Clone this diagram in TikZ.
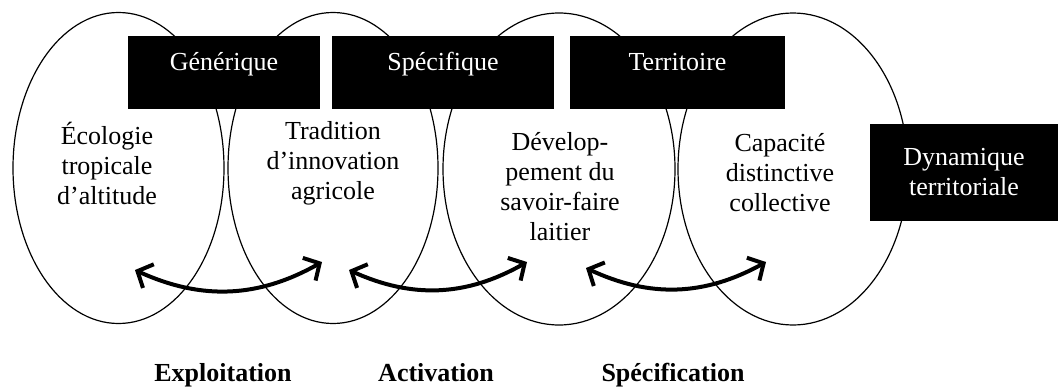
\documentclass[tikz,border=0pt]{standalone}
\usepackage{fontspec}
\setmainfont{Liberation Serif}
\usetikzlibrary{arrows.meta, shapes.geometric}

\tikzset{
    zone/.style={draw, ellipse, line width=0.6pt, inner sep=0pt},
    blackbox/.style={fill=black, text=white, inner sep=0pt, font=\fontsize{13pt}{15pt}\selectfont, text height=9pt, text depth=11.5pt},
    zonetext/.style={align=center, font=\fontsize{13pt}{15pt}\selectfont},
    phase/.style={anchor=base, font=\fontsize{13pt}{15pt}\selectfont\bfseries},
    link/.style={{Straight Barb[length=6pt,width=13pt]}-{Straight Barb[length=6pt,width=13pt]}, line width=2pt}
}

\begin{document}
\begin{tikzpicture}[x=0.5pt, y=-0.5pt]
    \useasboundingbox (0,0) rectangle (1058,390);
    \node [zone, minimum width=105.5pt, minimum height=155.5pt] (z1) at (118.5,168) {};
    \node [zone, minimum width=105pt, minimum height=155.5pt] (z2) at (333,168) {};
    \node [zone, minimum width=116pt, minimum height=156pt] (z3) at (559,169) {};
    \node [zone, minimum width=115pt, minimum height=156pt] (z4) at (793,169) {};

    \node [blackbox, minimum width=96pt, minimum height=36.5pt] (gen) at (224,72.5) {Générique};
    \node [blackbox, minimum width=111pt, minimum height=36.5pt] (spe) at (443,72.5) {Spécifique};
    \node [blackbox, minimum width=107.5pt, minimum height=36.5pt] (ter) at (677.5,72.5) {Territoire};
    \node [fill=black, text=white, inner sep=0pt, align=center, font=\fontsize{13pt}{15pt}\selectfont, minimum width=94pt, minimum height=48.5pt] (dyn) at (964,172) {Dynamique\\territoriale};

    \node [zonetext] (eco) at (107,163) {Écologie\\tropicale\\d’altitude};
    \node [zonetext] (tra) at (333,163) {Tradition\\d’innovation\\agricole};
    \node [zonetext] (dev) at (560,187) {Dévelop-\\pement du\\savoir-faire\\laitier};
    \node [zonetext] (cap) at (780,173) {Capacité\\distinctive\\collective};

    \coordinate (e1) at (135,270);
    \coordinate (e2) at (322,262);
    \coordinate (e3) at (349,270);
    \coordinate (e4) at (527,262);
    \coordinate (e5) at (586,268);
    \coordinate (e6) at (766,262);
    \draw [link] (e1) to [bend right=27] (e2);
    \draw [link] (e3) to [bend right=27] (e4);
    \draw [link] (e5) to [bend right=27] (e6);

    \node [phase] (exp) at (223,381) {Exploitation};
    \node [phase] (act) at (436,381) {Activation};
    \node [phase] (spc) at (673,381) {Spécification};
\end{tikzpicture}
\end{document}
